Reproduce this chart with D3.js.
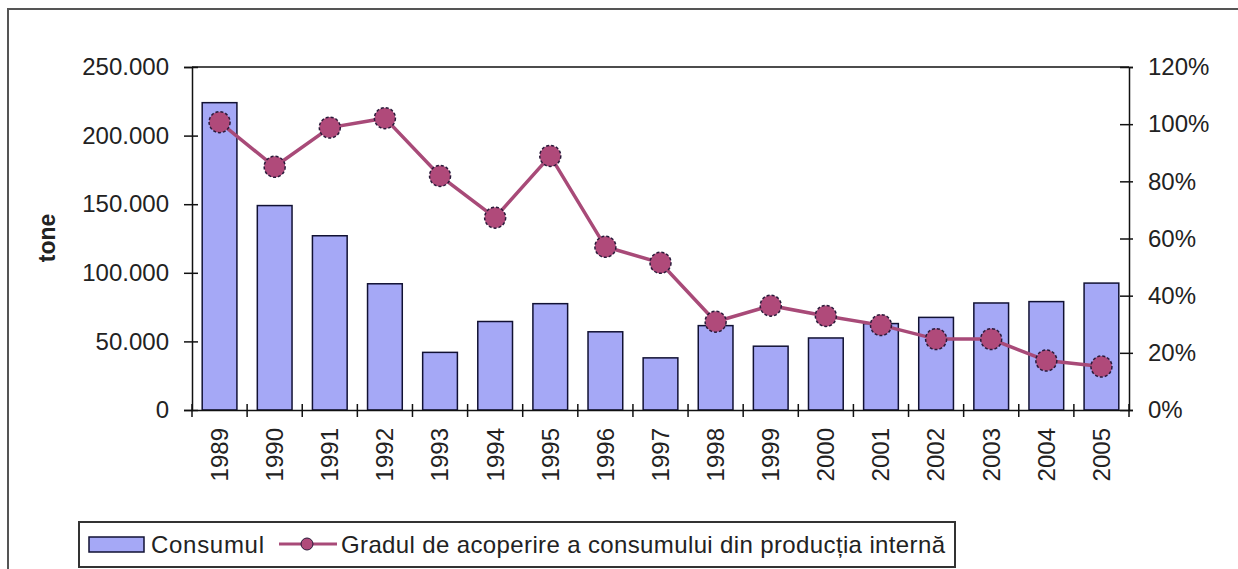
<!DOCTYPE html>
<html>
<head>
<meta charset="utf-8">
<script src="https://cdn.jsdelivr.net/npm/d3@7"></script>
<style>
    body { margin: 0; background: #fff; }
    text { font-family: "Liberation Sans", Arial, sans-serif; fill: #222; }
</style>
</head>
<body>
<div id="chart"></div>
<script>

// chart data
let years = ["1989", "1990", "1991", "1992", "1993", "1994", "1995", "1996", "1997",
    "1998", "1999", "2000", "2001", "2002", "2003", "2004", "2005"];
let consumul = [224000, 149000, 127000, 92000, 42000, 64500, 77500, 57000, 38000,
    61500, 46500, 52500, 63000, 67500, 78000, 79000, 92500];
let gradul = [100.7, 85.1, 98.8, 102.1, 81.9, 67.3, 88.9, 57.1, 51.5,
    30.9, 36.5, 32.9, 29.7, 24.8, 24.8, 17.3, 15.2];
let leftTicks = [0, 50000, 100000, 150000, 200000, 250000];
let rightTicks = [0, 20, 40, 60, 80, 100, 120];

let W = 1238, H = 569;
let margin = {top: 67, right: 109, bottom: 159, left: 192};
let width = 1129 - margin.left;
let height = 410 - margin.top;

let svg = d3.select("#chart").append("svg")
    .attr("width", W)
    .attr("height", H);

// outer frame (runs off the right and bottom edge)
svg.append("rect")
    .attr("x", 8).attr("y", 9)
    .attr("width", 1240).attr("height", 570)
    .attr("fill", "none")
    .attr("stroke", "#555")
    .attr("stroke-width", 2);

let g = svg.append("g")
    .attr("transform", `translate(${margin.left}, ${margin.top})`);

// scales
let x = d3.scaleBand().domain(years).range([0, width]).paddingInner(0.37).paddingOuter(0.185);
let xb = d3.scaleBand().domain(years).range([0, width]);
let y = d3.scaleLinear().domain([0, 250000]).range([height, 0]);
let y2 = d3.scaleLinear().domain([0, 120]).range([height, 0]);

let fmt = d => d === 0 ? "0" : d3.format(",")(d).replace(/,/g, ".");

// bars
g.selectAll(".bar")
    .data(consumul)
    .enter().append("rect")
    .attr("class", "bar")
    .attr("x", (d, i) => x(years[i]))
    .attr("y", d => y(d))
    .attr("width", x.bandwidth())
    .attr("height", d => height - y(d))
    .attr("fill", "#a5a8f6")
    .attr("stroke", "#111133")
    .attr("stroke-width", 1.5);

// top border of plot area
g.append("line")
    .attr("x1", 0).attr("x2", width)
    .attr("y1", 0).attr("y2", 0)
    .attr("stroke", "#111").attr("stroke-width", 1.5);

// left axis
let yAxis = g.append("g")
    .call(d3.axisLeft(y).tickValues(leftTicks).tickFormat(fmt).tickSize(8).tickPadding(15));
yAxis.selectAll(".tick line").attr("x2", 6).attr("x1", -8);

// right axis
let y2Axis = g.append("g")
    .attr("transform", `translate(${width}, 0)`)
    .call(d3.axisRight(y2).tickValues(rightTicks).tickFormat(d => d + "%").tickSize(4).tickPadding(15));
y2Axis.selectAll(".tick line").attr("x1", -9).attr("x2", 4);

// bottom axis with ticks between categories
let xAxis = g.append("g")
    .attr("transform", `translate(0, ${height})`)
    .call(d3.axisBottom(xb).tickSize(0).tickPadding(0));
xAxis.selectAll(".tick text")
    .attr("transform", "rotate(-90)")
    .attr("text-anchor", "end")
    .attr("x", -18)
    .attr("y", 0)
    .attr("dy", "0.35em");
xAxis.selectAll(".bound")
    .data(d3.range(years.length + 1))
    .enter().append("line")
    .attr("class", "bound")
    .attr("x1", i => i * xb.bandwidth())
    .attr("x2", i => i * xb.bandwidth())
    .attr("y1", -6).attr("y2", 7)
    .attr("stroke", "#111").attr("stroke-width", 1.5);

[yAxis, y2Axis, xAxis].forEach(a => {
    a.select(".domain").attr("stroke", "#111").attr("stroke-width", 1.5);
    a.selectAll(".tick line").attr("stroke", "#111").attr("stroke-width", 1.5);
    a.selectAll("text")
        .attr("font-size", 24)
        .attr("font-family", "'Liberation Sans', Arial, sans-serif")
        .attr("fill", "#222");
});

// axis title
svg.append("text")
    .attr("transform", "translate(55, 238) rotate(-90)")
    .attr("text-anchor", "middle")
    .attr("font-size", 23)
    .attr("font-weight", "bold")
    .text("tone");

// line series
let line = d3.line()
    .x((d, i) => xb(years[i]) + xb.bandwidth() / 2)
    .y(d => y2(d));

g.append("path")
    .datum(gradul)
    .attr("d", line)
    .attr("fill", "none")
    .attr("stroke", "#a84a78")
    .attr("stroke-width", 3.5);

g.selectAll(".dot")
    .data(gradul)
    .enter().append("circle")
    .attr("class", "dot")
    .attr("cx", (d, i) => xb(years[i]) + xb.bandwidth() / 2)
    .attr("cy", d => y2(d))
    .attr("r", 10.5)
    .attr("fill", "#b04a7a")
    .attr("stroke", "#2a1a3a")
    .attr("stroke-width", 1.5)
    .attr("stroke-dasharray", "3,2");

// legend
let legend = svg.append("g");
legend.append("rect")
    .attr("x", 79).attr("y", 522)
    .attr("width", 876).attr("height", 45)
    .attr("fill", "#fff")
    .attr("stroke", "#333")
    .attr("stroke-width", 2);
legend.append("rect")
    .attr("x", 89).attr("y", 537)
    .attr("width", 55).attr("height", 15)
    .attr("fill", "#a5a8f6")
    .attr("stroke", "#111133")
    .attr("stroke-width", 1.5);
legend.append("text")
    .attr("x", 151).attr("y", 553)
    .attr("font-size", 24)
    .attr("textLength", 113)
    .text("Consumul");
legend.append("line")
    .attr("x1", 279).attr("x2", 337)
    .attr("y1", 544).attr("y2", 544)
    .attr("stroke", "#a84a78")
    .attr("stroke-width", 3);
legend.append("circle")
    .attr("cx", 307).attr("cy", 544)
    .attr("r", 6)
    .attr("fill", "#b04a7a")
    .attr("stroke", "#2a1a3a")
    .attr("stroke-width", 1);
legend.append("text")
    .attr("x", 341).attr("y", 553)
    .attr("font-size", 24)
    .attr("textLength", 604)
    .text("Gradul de acoperire a consumului din producția internă");

</script>
</body>
</html>
